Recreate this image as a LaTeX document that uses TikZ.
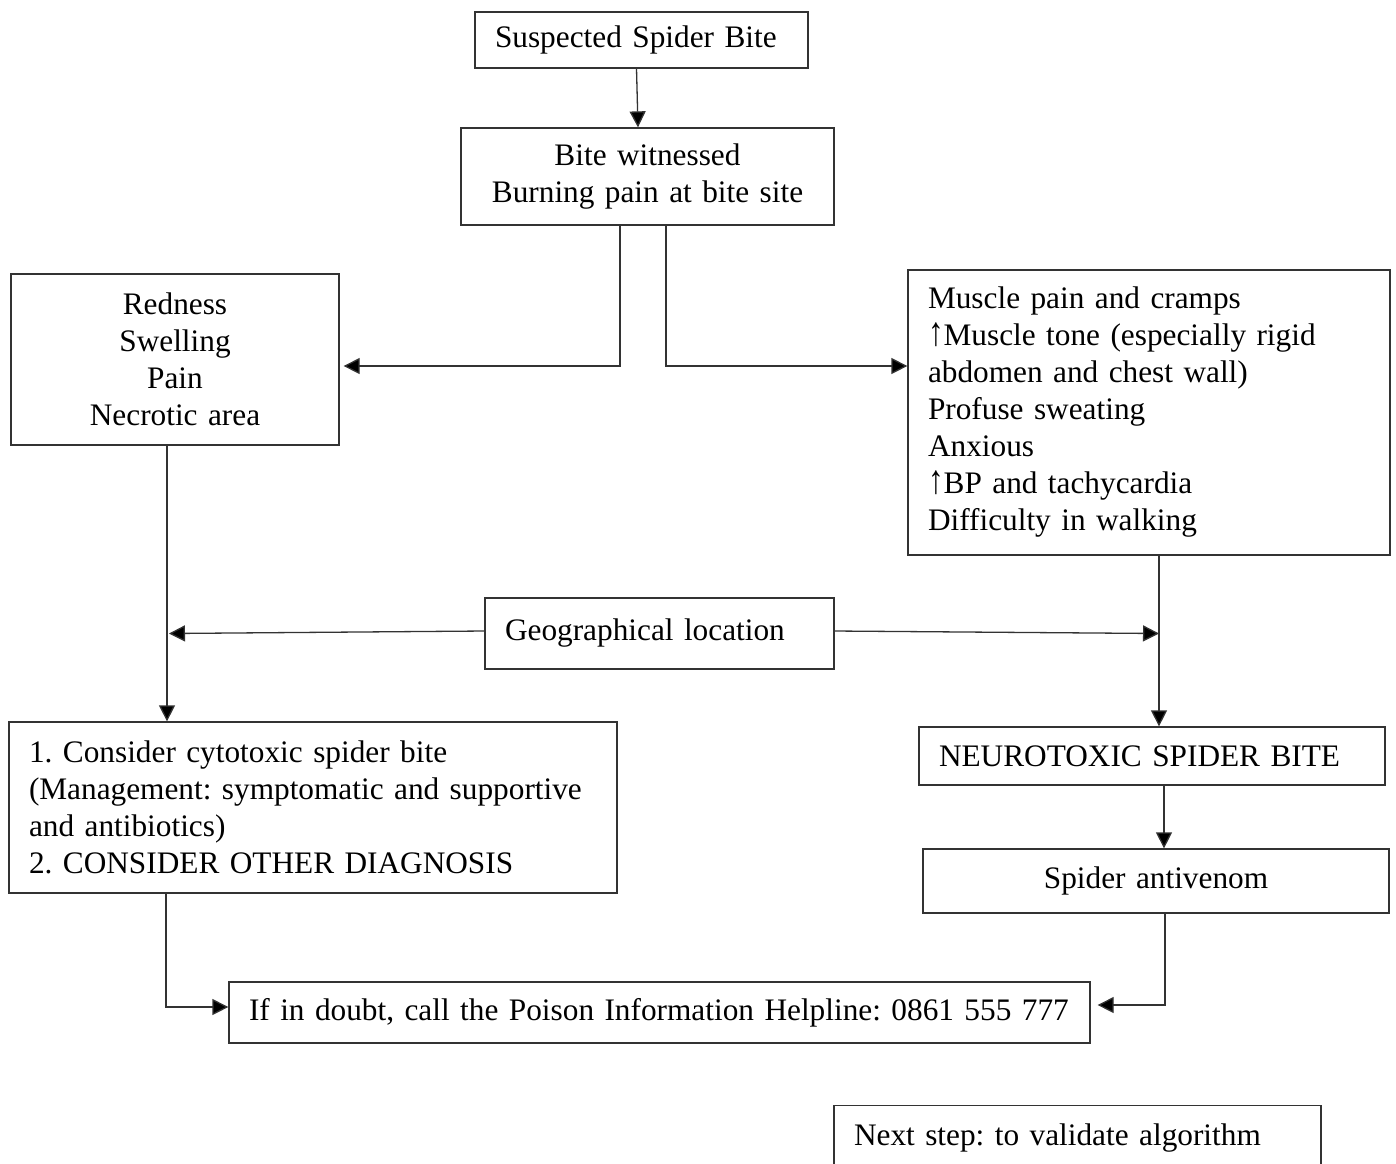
\documentclass[tikz,border=0pt]{standalone}
\usepackage{fontspec}
\usepackage{graphicx}
\setmainfont{Liberation Serif}
\usetikzlibrary{arrows.meta,calc}
\newcommand{\uparr}{\scalebox{1}[1.3]{↑}}
\begin{document}
\frenchspacing
\begin{tikzpicture}[x=1pt,y=-1pt,
  boxline/.style={draw=black!80, line width=1.3pt},
  box/.style={boxline, font=\fontsize{31.3}{37}\selectfont\frenchspacing, inner xsep=20pt, inner ysep=0pt, anchor=center},
  arr/.style={draw=black!80, line width=1.3pt, -{Triangle[length=16pt,width=16pt,fill=black]}},
  ln/.style={draw=black!80, line width=1.3pt}]
\useasboundingbox (0,0) rectangle (1396,1163);
\clip (0,0) rectangle (1396,1163);
\fill[white] (0,0) rectangle (1396,1163);

\node[box, text width=293pt, minimum height=56pt, align=left] (susp) at (641.5,40) {\mbox{Suspected Spider Bite}};
\node[box, text width=333pt, minimum height=97pt, align=center] (bite) at (647.5,176.5) {Bite witnessed\\\mbox{Burning pain at bite site}};
\node[box, text width=288pt, minimum height=171pt, align=center] (red) at (175,359.5) {Redness\\Swelling\\Pain\\Necrotic area};
\node[box, text width=442pt, minimum height=285pt, align=left] (sym) at (1149,412.5) {Muscle pain and cramps\\\mbox{\uparr Muscle tone (especially rigid}\\\mbox{abdomen and chest wall)}\\Profuse sweating\\Anxious\\\uparr BP and tachycardia\\Difficulty in walking};
\node[box, text width=309pt, minimum height=71pt, align=left] (geo) at (659.5,633.5) {Geographical location};
\node[box, text width=568pt, minimum height=171pt, align=left] (cyto) at (313,807.5) {\mbox{1. Consider cytotoxic spider bite}\\\mbox{(Management: symptomatic and supportive}\\\mbox{and antibiotics)}\\\mbox{2. CONSIDER OTHER DIAGNOSIS}};
\node[box, text width=426pt, minimum height=58pt, align=left] (neuro) at (1152,756) {\mbox{NEUROTOXIC SPIDER BITE}};
\node[box, text width=426pt, minimum height=64pt, align=center] (anti) at (1156,881) {Spider antivenom};
\node[box, text width=821pt, minimum height=61pt, align=left] (ifd) at (659.5,1012.5) {\mbox{If in doubt, call the Poison Information Helpline: 0861 555 777}};
\node[box, text width=447pt, minimum height=64pt, align=left, anchor=north] (next) at (1077.5,1105) {\mbox{Next step: to validate algorithm}};

\draw[arr] ([xshift=-5pt]susp.south) -- ([xshift=-9.5pt]bite.north);
\draw[arr] ([xshift=-27.5pt]bite.south) |- ([xshift=4pt,yshift=-6.5pt]red.east);
\draw[arr] ([xshift=18.5pt]bite.south) |- ([yshift=46.5pt]sym.west);
\draw[arr] ([xshift=-8pt]red.south) -- ([xshift=-8pt]red.south |- cyto.north);
\draw[arr] ([yshift=2.5pt]geo.west) -- ([xshift=-6pt]red.south |- geo.west);
\draw[arr] ([yshift=2.5pt]geo.east) -- ([xshift=10pt]sym.south |- geo.east);
\draw[arr] ([xshift=10pt]sym.south) -- ([xshift=10pt]sym.south |- neuro.north);
\draw[arr] ([xshift=12pt]neuro.south) -- ([xshift=12pt]neuro.south |- anti.north);
\draw[arr] ([xshift=-147pt]cyto.south) |- ([yshift=5.5pt]ifd.west);
\draw[arr] ([xshift=9pt]anti.south) |- ([xshift=7pt,yshift=7.5pt]ifd.east);
\end{tikzpicture}
\end{document}
